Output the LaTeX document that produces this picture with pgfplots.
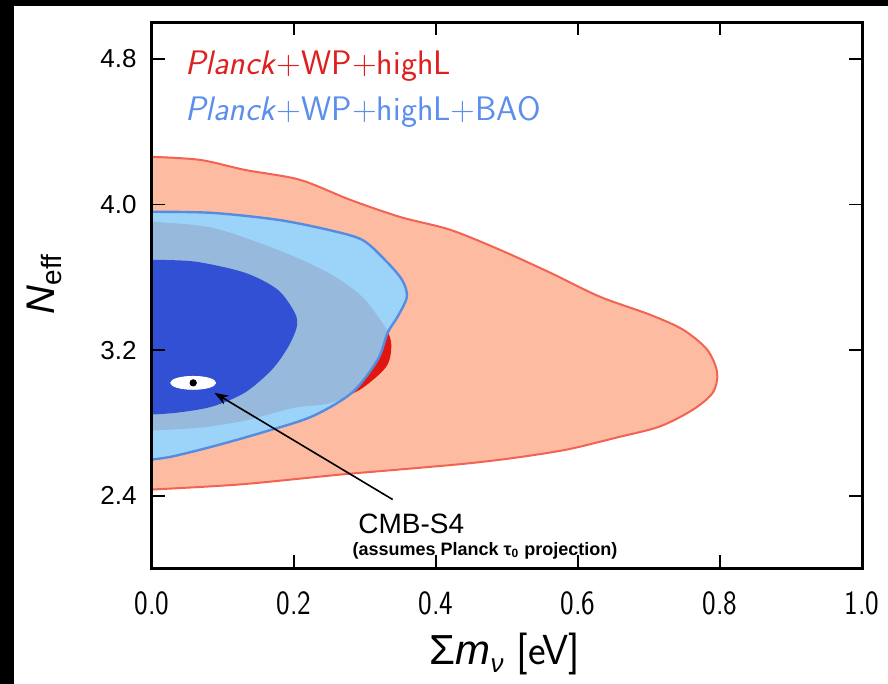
\documentclass[border=0pt]{standalone}
\usepackage{pgfplots}
\pgfplotsset{compat=1.18}
\usepackage{graphicx}
\usepackage{fontspec}
\newfontfamily\arial{Liberation Sans}
\usetikzlibrary{arrows.meta}

\definecolor{salmon}{RGB}{253,188,162}
\definecolor{salmonline}{RGB}{244,98,84}
\definecolor{darkred}{RGB}{226,22,16}
\definecolor{lightblue}{RGB}{155,212,248}
\definecolor{blueline}{RGB}{84,140,226}
\definecolor{grayblue}{RGB}{150,185,220}
\definecolor{darkblue}{RGB}{50,80,212}
\definecolor{legred}{RGB}{222,32,30}
\definecolor{legblue}{RGB}{92,142,238}

\begin{document}
\begin{tikzpicture}
% black frame and white panel, 1px = 0.5pt, axis corner at origin
\fill[black] (-76pt,-57.75pt) rectangle (368pt,284.25pt);
\fill[white] (-69pt,-57.75pt) rectangle (368pt,281.25pt);
\begin{axis}[
	at={(0,0)}, anchor=south west,
	scale only axis,
	width=355pt, height=273pt,
	xmin=0, xmax=1, ymin=2.0, ymax=5.0,
	xtick={0,0.2,0.4,0.6,0.8,1.0},
	ytick={2.4,3.2,4.0,4.8},
	tick align=inside,
	major tick length=6.5pt,
	tick style={line width=0.9pt, black},
	axis line style={line width=1.5pt},
	axis on top,
	/pgf/number format/assume math mode=true,
	xticklabel={\scalebox{0.85}[1]{\pgfmathprintnumber[fixed,fixed zerofill,precision=1]{\tick}}},
	yticklabel={\pgfmathprintnumber[fixed,fixed zerofill,precision=1]{\tick}},
	xticklabel style={font=\sffamily\fontsize{17}{17}\selectfont, anchor=base, yshift=-23pt},
	yticklabel style={font=\arial\fontsize{13}{13}\selectfont, anchor=east, inner sep=0pt, xshift=-7.5pt},
	xlabel={{\arial Σ\textit{m}\raisebox{-0.35ex}{\fontsize{13}{13}\selectfont\textit{ν}}} [eV]},
	xlabel style={font=\sffamily\fontsize{21}{21}\selectfont, at={(rel axis cs:0.497,-0.157)}, anchor=center},
	ylabel={\textit{N}\raisebox{-0.35ex}{\fontsize{14}{14}\selectfont eff}},
	ylabel style={font=\arial\fontsize{20}{20}\selectfont, at={(rel axis cs:-0.152,0.52)}, anchor=center},
]
% Planck+WP+highL, 2 sigma
\addplot[fill=salmon, draw=salmonline, line width=1pt, smooth, tension=0.5] coordinates {
	(0.000,4.262) (0.068,4.245) (0.131,4.190) (0.208,4.136) (0.279,4.026)
	(0.349,3.932) (0.420,3.861) (0.490,3.751) (0.561,3.625) (0.631,3.493)
	(0.701,3.395) (0.748,3.312) (0.782,3.202) (0.796,3.076) (0.790,2.967)
	(0.762,2.873) (0.715,2.780) (0.655,2.720) (0.585,2.654) (0.514,2.610)
	(0.444,2.577) (0.349,2.544) (0.265,2.516) (0.124,2.462) (0.000,2.434)
} -- cycle;
% Planck+WP+highL, 1 sigma
\addplot[fill=darkred, draw=none, smooth, tension=0.5] coordinates {
	(0.000,3.905) (0.085,3.872) (0.177,3.751) (0.248,3.625) (0.296,3.493)
	(0.328,3.329) (0.337,3.230) (0.330,3.109) (0.293,2.983) (0.251,2.917)
	(0.201,2.884) (0.131,2.813) (0.068,2.774) (0.000,2.758)
} -- cycle;
% Planck+WP+highL+BAO, 2 sigma
\addplot[fill=lightblue, draw=none, smooth, tension=0.5] coordinates {
	(0.000,3.960) (0.085,3.954) (0.177,3.916) (0.248,3.861) (0.296,3.806)
	(0.328,3.696) (0.352,3.587) (0.359,3.493) (0.346,3.384) (0.332,3.296)
	(0.318,3.148) (0.282,2.967) (0.225,2.835) (0.155,2.747) (0.085,2.670)
	(0.028,2.615) (0.000,2.599)
} -- cycle;
% overlap of the two
\addplot[fill=grayblue, draw=none, smooth, tension=0.5] coordinates {
	(0.000,3.905) (0.085,3.872) (0.177,3.751) (0.248,3.625) (0.296,3.493)
	(0.328,3.329) (0.332,3.296) (0.318,3.148) (0.282,2.967) (0.248,2.906)
	(0.201,2.884) (0.131,2.813) (0.068,2.774) (0.000,2.758)
} -- cycle;
\addplot[draw=blueline, line width=1.2pt, smooth, tension=0.5] coordinates {
	(0.000,3.960) (0.085,3.954) (0.177,3.916) (0.248,3.861) (0.296,3.806)
	(0.328,3.696) (0.352,3.587) (0.359,3.493) (0.346,3.384) (0.332,3.296)
	(0.318,3.148) (0.282,2.967) (0.225,2.835) (0.155,2.747) (0.085,2.670)
	(0.028,2.615) (0.000,2.599)
};
% Planck+WP+highL+BAO, 1 sigma
\addplot[fill=darkblue, draw=none, smooth, tension=0.5] coordinates {
	(0.000,3.696) (0.061,3.686) (0.131,3.625) (0.177,3.532) (0.201,3.406)
	(0.204,3.329) (0.192,3.219) (0.169,3.093) (0.131,2.967) (0.085,2.890)
	(0.037,2.857) (0.000,2.846)
} -- cycle;
% CMB-S4 forecast
\addplot[only marks, mark=*, mark size=3.25pt, white, mark options={xscale=3.46, fill=white, draw=white}] coordinates {(0.058,3.02)};
\addplot[only marks, mark=*, mark size=1.6pt, black, mark options={fill=black, draw=black}] coordinates {(0.058,3.02)};
\draw[-{Stealth[length=7pt,width=5pt]}, line width=0.8pt] (axis cs:0.339,2.379) -- (axis cs:0.088,2.965);

\node[anchor=base west, inner sep=0pt, font=\sffamily\fontsize{17}{17}\selectfont, text=legred]
	at (rel axis cs:0.0465,0.904) {\textit{Planck}+WP+highL};
\node[anchor=base west, inner sep=0pt, font=\sffamily\fontsize{17}{17}\selectfont, text=legblue]
	at (rel axis cs:0.0465,0.821) {\textit{Planck}+WP+highL+BAO};
\node[anchor=base west, inner sep=0pt, font=\arial\fontsize{14}{14}\selectfont]
	at (rel axis cs:0.290,0.065) {CMB-S4};
\node[anchor=base west, inner sep=0pt, font=\arial\bfseries\fontsize{9}{9}\selectfont]
	at (rel axis cs:0.282,0.0247) {(assumes Planck τ\textsubscript{0} projection)};
\end{axis}
\end{tikzpicture}
\end{document}
